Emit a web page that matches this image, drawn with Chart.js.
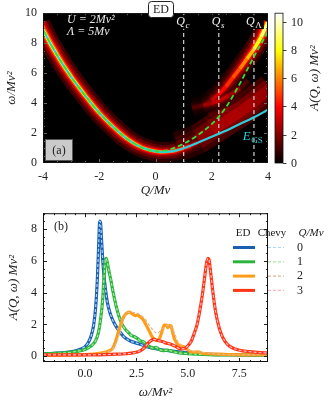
<!DOCTYPE html>
<html>
<head>
<meta charset="utf-8">
<title>Spectral function A(Q, omega)</title>
<style>
  body { margin: 0; background: #fff; }
  canvas { display: block; }
</style>
</head>
<body>
<canvas id="top" width="331" height="200"></canvas>
<canvas id="bottom" width="331" height="202"></canvas>
<script src="https://cdn.jsdelivr.net/npm/chart.js"></script>
<script>
// ---------- panel (a): ED spectral map, ridges ----------
const qTicks = [-4, -2, 0, 2, 4];
const wTicks = [0, 2, 4, 6, 8, 10];
const cbTicks = [0, 2, 4, 6, 8, 10];
const cbMax = 10.6;
const qMarks = [1.0, 2.25, 3.5];
const qMarkSubs = ['c', 's', 'Λ'];

// main quasiparticle ridge (Q, omega, relative brightness)
const ridgeQ = [-4.1, -4.0, -3.5, -3.0, -2.5, -2.0, -1.5, -1.0, -0.5, 0.0, 0.25, 0.5, 0.75, 1.0, 1.25, 1.5, 1.8];
const ridgeW = [9.3, 8.9, 7.2, 5.75, 4.5, 3.35, 2.4, 1.6, 1.05, 0.78, 0.73, 0.76, 0.84, 0.98, 1.15, 1.38, 1.7];
const ridgeI = [0.85, 0.85, 0.8, 0.76, 0.73, 0.7, 0.68, 0.66, 0.63, 0.6, 0.58, 0.56, 0.52, 0.45, 0.35, 0.22, 0.08];
// upper bright branch on the right
const upQ = [1.5, 1.8, 2.0, 2.25, 2.5, 2.75, 3.0, 3.25, 3.5, 3.75, 4.0, 4.1];
const upW = [3.75, 3.95, 4.2, 4.6, 5.1, 5.7, 6.3, 6.95, 7.6, 8.4, 9.4, 9.8];
const upI = [0.05, 0.15, 0.25, 0.36, 0.41, 0.46, 0.53, 0.61, 0.71, 0.81, 0.9, 0.92];
// faint side branches
const f2Q = [1.3, 1.7, 2.0, 2.25, 2.6, 3.0, 3.3];
const f2W = [3.7, 3.85, 4.0, 4.15, 4.5, 5.0, 5.5];
const f2I = [0.05, 0.2, 0.28, 0.3, 0.28, 0.18, 0.05];
const f3Q = [1.9, 2.25, 2.6, 3.0, 3.4];
const f3W = [3.2, 3.35, 3.6, 4.0, 4.5];
const f3I = [0.05, 0.2, 0.22, 0.15, 0.05];
// diffuse continuum between E_GS and the quasiparticle line
const dfQ = [0.8, 1.5, 2.0, 2.5, 3.0, 3.5, 4.1];
const dfW = [1.1, 1.6, 2.2, 2.8, 3.4, 4.1, 5.0];
const dfI = [0.1, 0.22, 0.28, 0.3, 0.3, 0.28, 0.25];

// ground state energy E_GS (cyan)
const egsQ = [-4.1, -4.0, -3.5, -3.0, -2.5, -2.0, -1.5, -1.0, -0.5, 0.0, 0.25, 0.5, 0.75, 1.0, 1.5, 2.0, 2.25, 2.5, 3.0, 3.5, 4.0, 4.1];
const egsW = [9.3, 8.9, 7.2, 5.75, 4.5, 3.35, 2.4, 1.6, 1.05, 0.78, 0.73, 0.76, 0.84, 0.98, 1.35, 1.75, 1.95, 2.15, 2.6, 3.05, 3.55, 3.65];
// Chevy quasiparticle (green dashed)
const qpQ = [-4.1, -4.0, -3.5, -3.0, -2.5, -2.0, -1.5, -1.0, -0.5, 0.0, 0.25, 0.5, 1.0, 1.5, 2.0, 2.25, 2.5, 3.0, 3.5, 4.0, 4.1];
const qpW = [9.3, 8.9, 7.2, 5.75, 4.5, 3.35, 2.4, 1.6, 1.05, 0.77, 0.8, 0.9, 1.28, 1.85, 2.6, 3.1, 3.7, 5.3, 7.1, 8.8, 9.2];

// ---------- panel (b): cuts at fixed Q ----------
const qLabels = ['0', '1', '2', '3'];
const omegaTicks = [0, 2.5, 5, 7.5];
const omegaTickLabels = ['0.0', '2.5', '5.0', '7.5'];
const aTicks = [0, 2, 4, 6, 8];

const edOmega0 = [-2.05, -1.5, -1, -0.5, -0.2, 0, 0.15, 0.3, 0.42, 0.52, 0.6, 0.66, 0.71, 0.75, 0.8, 0.86, 0.93, 1.0, 1.08, 1.17, 1.3, 1.45, 1.65, 1.9, 2.2, 2.6, 3.0, 3.5, 4.2, 5, 6, 7, 8, 8.9];
const edA0 = [0.15, 0.18, 0.22, 0.32, 0.45, 0.6, 0.85, 1.3, 2.0, 3.2, 5.0, 7.0, 8.5, 8.4, 7.3, 6.0, 4.9, 4.1, 3.4, 2.9, 2.4, 2.0, 1.6, 1.2, 0.95, 0.78, 0.6, 0.45, 0.32, 0.22, 0.13, 0.09, 0.06, 0.05];

const edOmega1 = [-2.05, -1, -0.5, 0, 0.3, 0.5, 0.65, 0.75, 0.85, 0.92, 0.98, 1.02, 1.08, 1.15, 1.25, 1.35, 1.5, 1.65, 1.8, 1.95, 2.1, 2.25, 2.4, 2.55, 2.7, 2.85, 3.0, 3.15, 3.3, 3.45, 3.6, 3.8, 4.0, 4.2, 4.5, 5, 6, 7, 8.9];
const edA1 = [0.15, 0.2, 0.28, 0.42, 0.65, 0.95, 1.5, 2.3, 3.5, 5.0, 6.0, 6.15, 5.9, 5.4, 4.8, 4.1, 3.2, 2.5, 2.0, 1.7, 1.5, 1.3, 1.22, 1.1, 0.95, 0.9, 0.72, 0.6, 0.5, 0.55, 0.42, 0.35, 0.38, 0.32, 0.22, 0.15, 0.1, 0.08, 0.05];

const edOmega2 = [-2.05, -1, 0, 0.5, 0.9, 1.15, 1.35, 1.5, 1.6, 1.72, 1.83, 1.95, 2.05, 2.15, 2.25, 2.35, 2.45, 2.55, 2.65, 2.75, 2.85, 2.95, 3.05, 3.15, 3.25, 3.35, 3.45, 3.55, 3.65, 3.75, 3.85, 3.95, 4.02, 4.1, 4.18, 4.26, 4.34, 4.45, 4.56, 4.7, 4.82, 4.95, 5.1, 5.3, 5.5, 5.7, 6.0, 6.5, 7, 8, 8.9];
const edA2 = [0.05, 0.06, 0.1, 0.15, 0.22, 0.32, 0.5, 1.0, 1.45, 1.95, 2.35, 2.6, 2.72, 2.78, 2.7, 2.62, 2.55, 2.6, 2.5, 2.4, 2.25, 2.0, 1.75, 1.5, 1.25, 1.1, 1.0, 1.0, 1.2, 1.6, 1.95, 1.95, 1.8, 1.92, 1.9, 1.5, 1.1, 0.85, 0.68, 0.62, 0.58, 0.45, 0.3, 0.25, 0.27, 0.18, 0.15, 0.12, 0.1, 0.08, 0.07];

const edOmega3 = [-2.05, -1, 0, 1, 1.5, 2, 2.4, 2.7, 2.9, 3.05, 3.2, 3.35, 3.5, 3.65, 3.8, 3.95, 4.1, 4.25, 4.4, 4.55, 4.7, 4.85, 5.0, 5.15, 5.3, 5.45, 5.6, 5.72, 5.82, 5.9, 5.97, 6.02, 6.08, 6.15, 6.25, 6.35, 6.5, 6.65, 6.8, 7.0, 7.3, 7.6, 8.0, 8.5, 8.9];
const edA3 = [0.08, 0.08, 0.08, 0.1, 0.12, 0.15, 0.22, 0.35, 0.55, 0.8, 0.98, 1.05, 1.0, 0.95, 0.9, 0.82, 0.78, 0.7, 0.62, 0.5, 0.45, 0.5, 0.65, 0.9, 1.4, 2.0, 3.0, 4.0, 5.0, 5.8, 6.15, 6.1, 5.6, 4.8, 3.7, 2.8, 1.9, 1.3, 0.95, 0.65, 0.45, 0.35, 0.28, 0.22, 0.2];

// Chevy lies on the ED curves except for Q = 2, where it is smoother
const chevyOmega2 = [-2.05, 0, 1.0, 1.4, 1.7, 1.9, 2.1, 2.3, 2.6, 2.9, 3.2, 3.5, 3.8, 4.1, 4.3, 4.5, 4.8, 5.2, 5.6, 6.5, 8.9];
const chevyA2 = [0.05, 0.1, 0.25, 0.55, 1.5, 2.4, 2.75, 2.75, 2.65, 2.35, 1.8, 1.45, 1.75, 1.95, 1.6, 0.95, 0.6, 0.3, 0.25, 0.12, 0.07];

const edSeries = [[edOmega0, edA0], [edOmega1, edA1], [edOmega2, edA2], [edOmega3, edA3]];
const chevySeries = [[edOmega0, edA0], [edOmega1, edA1], [chevyOmega2, chevyA2], [edOmega3, edA3]];
const edColors = ['#1c5eb0', '#2cb53c', '#ff9c18', '#ff3512'];
const chevyColors = ['#a6d8ff', '#a8e8a8', '#dcb890', '#ffb4c4'];

const SERIF = '"Liberation Serif", "DejaVu Serif", serif';
const TXT = '#222';

// matplotlib-like "hot" colormap
function hot(t) {
  t = Math.max(0, Math.min(1, t));
  const r = Math.min(1, t / 0.375);
  const g = Math.max(0, Math.min(1, (t - 0.375) / 0.375));
  const b = Math.max(0, Math.min(1, (t - 0.75) / 0.25));
  return `rgb(${Math.round(r * 255)},${Math.round(g * 255)},${Math.round(b * 255)})`;
}

const pts = (xs, ys) => xs.map((x, i) => ({ x, y: ys[i] }));

function glow(qs, ws, is, width, gain, order) {
  return {
    glow: true,
    data: pts(qs, ws),
    borderWidth: width,
    borderColor: hot(is[0] * gain),
    segment: { borderColor: c => hot(((is[c.p0DataIndex] + is[c.p1DataIndex]) / 2) * gain) },
    pointRadius: 0, clip: 0, order,
    cubicInterpolationMode: 'monotone'
  };
}

const glowLayers = [[20, 0.12], [14, 0.24], [9.5, 0.4], [6, 0.62], [3.5, 1.0]];
const topDatasets = [];
[[ridgeQ, ridgeW, ridgeI], [upQ, upW, upI], [f2Q, f2W, f2I], [f3Q, f3W, f3I]].forEach(([q, w, i]) => {
  glowLayers.forEach(([lw, g], k) => topDatasets.push(glow(q, w, i, lw, g, 100 - k)));
});
[[30, 0.35], [20, 0.6], [11, 0.85]].forEach(([lw, g], k) => topDatasets.push(glow(dfQ, dfW, dfI, lw, g, 90 - k)));

qMarks.forEach(q => topDatasets.push({
  data: [{ x: q, y: 0 }, { x: q, y: 10 }],
  borderColor: 'rgba(215,215,215,0.9)', borderWidth: 1.3, borderDash: [4, 3],
  pointRadius: 0, clip: 0, order: 3
}));
topDatasets.push({
  data: pts(egsQ, egsW), borderColor: '#2ccfda', borderWidth: 2.2,
  pointRadius: 0, clip: 0, order: 2, cubicInterpolationMode: 'monotone'
});
topDatasets.push({
  data: pts(qpQ, qpW), borderColor: '#35e035', borderWidth: 1.8, borderDash: [5, 3],
  pointRadius: 0, clip: 0, order: 1, cubicInterpolationMode: 'monotone'
});

// lighten blend keeps faint ridges from hiding bright ones
const blendPlugin = {
  id: 'blend',
  beforeDatasetDraw(chart, args) {
    if (args.meta._dataset.glow) chart.ctx.globalCompositeOperation = 'lighten';
  },
  afterDatasetDraw(chart) { chart.ctx.globalCompositeOperation = 'source-over'; },
  beforeDatasetsDraw(chart, args, o) {
    if (!o.fill) return;
    const a = chart.chartArea;
    chart.ctx.fillStyle = o.fill;
    chart.ctx.fillRect(a.left, a.top, a.width, a.height);
  }
};

// box frame with inward ticks on all sides
const framePlugin = {
  id: 'frame',
  afterDatasetsDraw(chart, args, o) {
    const { ctx, chartArea: a, scales: { x, y } } = chart;
    ctx.save();
    ctx.strokeStyle = o.tickColor;
    ctx.lineWidth = 1;
    const xs = (vals, len) => vals.forEach(v => {
      const p = Math.round(x.getPixelForValue(v)) + 0.5;
      if (p < a.left || p > a.right) return;
      ctx.beginPath();
      ctx.moveTo(p, a.bottom); ctx.lineTo(p, a.bottom - len);
      ctx.moveTo(p, a.top); ctx.lineTo(p, a.top + len);
      ctx.stroke();
    });
    const ys = (vals, len) => vals.forEach(v => {
      const p = Math.round(y.getPixelForValue(v)) + 0.5;
      if (p < a.top || p > a.bottom) return;
      ctx.beginPath();
      ctx.moveTo(a.left, p); ctx.lineTo(a.left + len, p);
      ctx.moveTo(a.right, p); ctx.lineTo(a.right - len, p);
      ctx.stroke();
    });
    xs(o.xMajor, 4); xs(o.xMinor, 2); ys(o.yMajor, 4); ys(o.yMinor, 2);
    ctx.strokeStyle = '#111';
    ctx.strokeRect(a.left + 0.5, a.top + 0.5, a.width - 1, a.height - 1);
    ctx.restore();
  }
};

function minors(lo, hi, step) {
  const out = [];
  for (let v = lo; v <= hi + 1e-9; v += step) out.push(+v.toFixed(3));
  return out;
}

function subText(ctx, x, y, main, sub, size, color, mainItalic, subItalic) {
  ctx.fillStyle = color;
  ctx.textBaseline = 'alphabetic';
  ctx.textAlign = 'left';
  ctx.font = (mainItalic ? 'italic ' : '') + size + 'px ' + SERIF;
  const w = ctx.measureText(main).width;
  ctx.fillText(main, x, y);
  ctx.font = (subItalic ? 'italic ' : '') + Math.round(size * 0.72) + 'px ' + SERIF;
  ctx.fillText(sub, x + w + 0.5, y + 3);
  return w + 0.5 + ctx.measureText(sub).width;
}

const annotA = {
  id: 'annotA',
  afterDraw(chart) {
    const { ctx, chartArea: a, scales: { x, y, cb } } = chart;
    ctx.save();
    // parameters
    ctx.fillStyle = '#e6e6e6';
    ctx.font = 'italic 12px ' + SERIF;
    ctx.textBaseline = 'middle';
    ctx.fillText('U = 2Mv²', a.left + 24, 20);
    ctx.fillText('Λ = 5Mv', a.left + 24, 32);
    // (a) box
    ctx.fillStyle = '#cacaca';
    ctx.strokeStyle = '#555';
    ctx.fillRect(a.left + 2.5, a.bottom - 23.5, 27, 21);
    ctx.strokeRect(a.left + 2.5, a.bottom - 23.5, 27, 21);
    ctx.fillStyle = TXT;
    ctx.font = '12px ' + SERIF;
    ctx.textAlign = 'center';
    ctx.fillText('(a)', a.left + 16, a.bottom - 12.5);
    // ED box
    ctx.fillStyle = '#fff';
    ctx.strokeStyle = '#222';
    ctx.beginPath();
    ctx.roundRect(148.5, 1.5, 25, 16, 3);
    ctx.fill(); ctx.stroke();
    ctx.fillStyle = TXT;
    ctx.fillText('ED', 161, 10);
    // Q markers
    qMarks.forEach((q, i) => {
      const px = x.getPixelForValue(q);
      ctx.font = 'italic 12px ' + SERIF;
      const w = ctx.measureText('Q').width + ctx.measureText(qMarkSubs[i]).width * 0.72 + 2;
      ctx.fillStyle = 'rgba(0,0,0,0.92)';
      ctx.fillRect(px - w / 2 - 2, 15, w + 4, 14);
      subText(ctx, px - w / 2, 25, 'Q', qMarkSubs[i], 12, '#f0f0f0', true, qMarkSubs[i] !== 'Λ');
    });
    // E_GS
    subText(ctx, x.getPixelForValue(3.1), y.getPixelForValue(1.55), 'E', 'GS', 13, '#2ccfda', true, false);
    // colorbar
    const top = cb.getPixelForValue(cbMax), bot = cb.getPixelForValue(0);
    const grad = ctx.createLinearGradient(0, bot, 0, top);
    for (let k = 0; k <= 16; k++) grad.addColorStop(k / 16, hot(k / 16));
    ctx.fillStyle = grad;
    ctx.fillRect(275, top, 8, bot - top);
    ctx.strokeStyle = '#111';
    ctx.lineWidth = 0.8;
    ctx.strokeRect(275, top, 8, bot - top);
    ctx.font = '12px ' + SERIF;
    ctx.fillStyle = TXT;
    ctx.textAlign = 'left';
    ctx.textBaseline = 'middle';
    cbTicks.forEach(v => {
      const p = Math.round(cb.getPixelForValue(v)) + 0.5;
      ctx.beginPath(); ctx.moveTo(283, p); ctx.lineTo(286.5, p); ctx.stroke();
      ctx.fillText(String(v), 291, p);
    });
    ctx.translate(315, 78);
    ctx.rotate(-Math.PI / 2);
    ctx.textAlign = 'center';
    ctx.font = 'italic 13px ' + SERIF;
    ctx.fillText('A(Q, ω) Mv²', 0, 0);
    ctx.restore();
  }
};

const legendB = {
  id: 'legendB',
  afterDraw(chart) {
    const { ctx, chartArea: a } = chart;
    ctx.save();
    ctx.fillStyle = TXT;
    ctx.textBaseline = 'middle';
    ctx.textAlign = 'center';
    ctx.font = '12px ' + SERIF;
    ctx.fillText('(b)', a.left + 18, a.top + 14);
    ctx.font = '11px ' + SERIF;
    ctx.fillText('ED', 243, 33);
    ctx.fillText('Chevy', 272, 33);
    ctx.font = 'italic 11px ' + SERIF;
    ctx.fillText('Q/Mv', 311, 33);
    ctx.font = '12px ' + SERIF;
    qLabels.forEach((lab, i) => {
      const yy = 47.5 + i * 14.3;
      ctx.setLineDash([]);
      ctx.strokeStyle = edColors[i];
      ctx.lineWidth = 3;
      ctx.beginPath(); ctx.moveTo(233, yy); ctx.lineTo(255, yy); ctx.stroke();
      ctx.setLineDash([3, 2]);
      ctx.strokeStyle = chevyColors[i];
      ctx.lineWidth = 1.2;
      ctx.beginPath(); ctx.moveTo(268, yy); ctx.lineTo(284, yy); ctx.stroke();
      ctx.fillStyle = TXT;
      ctx.fillText(lab, 300, yy);
    });
    ctx.restore();
  }
};

const tickFont = { family: SERIF, size: 12 };
const titleFont = { family: SERIF, size: 13, style: 'italic' };

new Chart(document.getElementById('top'), {
  type: 'line',
  data: { datasets: topDatasets },
  plugins: [blendPlugin, framePlugin, annotA],
  options: {
    responsive: false, animation: false, events: [],
    layout: { padding: { top: 10, right: 63, left: 0, bottom: 0 } },
    plugins: {
      legend: { display: false }, tooltip: { enabled: false },
      blend: { fill: '#000' },
      frame: { tickColor: '#666', xMajor: qTicks, xMinor: minors(-4, 4, 0.5), yMajor: wTicks, yMinor: minors(0, 10, 0.5) }
    },
    scales: {
      x: {
        type: 'linear', min: -4, max: 4,
        afterBuildTicks: s => { s.ticks = qTicks.map(v => ({ value: v })); },
        ticks: { font: tickFont, color: TXT, padding: 7, maxRotation: 0 },
        grid: { display: false, drawTicks: false },
        border: { display: false },
        title: { display: true, text: 'Q/Mv', font: titleFont, color: TXT, padding: { top: 0, bottom: 2 } },
        afterFit: s => { s.height = 37; }
      },
      y: {
        type: 'linear', min: 0, max: 10,
        afterBuildTicks: s => { s.ticks = wTicks.map(v => ({ value: v })); },
        ticks: { font: tickFont, color: TXT, padding: 6 },
        grid: { display: false, drawTicks: false },
        border: { display: false },
        title: { display: true, text: 'ω/Mv²', font: titleFont, color: TXT, padding: { top: 4, bottom: 0 } },
        afterFit: s => { s.width = 43; }
      },
      cb: { type: 'linear', axis: 'y', position: 'right', display: false, min: 0, max: cbMax }
    }
  }
});

const bottomDatasets = [];
edSeries.forEach(([w, A], i) => {
  bottomDatasets.push({
    label: 'Chevy ' + qLabels[i], data: pts(chevySeries[i][0], chevySeries[i][1]),
    borderColor: chevyColors[i], borderWidth: 1.2, borderDash: [3, 2],
    pointRadius: 0, clip: 0, order: 10 - 2 * i, cubicInterpolationMode: 'monotone'
  });
  bottomDatasets.push({
    label: 'ED ' + qLabels[i], data: pts(w, A),
    borderColor: edColors[i], borderWidth: 3.2,
    pointRadius: 0, clip: 0, order: 11 - 2 * i, cubicInterpolationMode: 'monotone'
  });
});

new Chart(document.getElementById('bottom'), {
  type: 'line',
  data: { datasets: bottomDatasets },
  plugins: [framePlugin, legendB],
  options: {
    responsive: false, animation: false, events: [],
    layout: { padding: { top: 9, right: 63, left: 0, bottom: 0 } },
    plugins: {
      legend: { display: false }, tooltip: { enabled: false },
      frame: { tickColor: '#222', xMajor: omegaTicks, xMinor: minors(-2, 8.5, 0.5), yMajor: aTicks, yMinor: minors(0, 9, 0.5) }
    },
    scales: {
      x: {
        type: 'linear', min: -2.05, max: 8.9,
        afterBuildTicks: s => { s.ticks = omegaTicks.map(v => ({ value: v })); },
        ticks: { font: tickFont, color: TXT, padding: 5, maxRotation: 0, callback: (v, i) => omegaTickLabels[i] },
        grid: { display: false, drawTicks: false },
        border: { display: false },
        title: { display: true, text: 'ω/Mv²', font: titleFont, color: TXT, padding: { top: 0, bottom: 2 } },
        afterFit: s => { s.height = 40; }
      },
      y: {
        type: 'linear', min: -0.37, max: 9.0,
        afterBuildTicks: s => { s.ticks = aTicks.map(v => ({ value: v })); },
        ticks: { font: tickFont, color: TXT, padding: 6 },
        grid: { display: false, drawTicks: false },
        border: { display: false },
        title: { display: true, text: 'A(Q, ω) Mv²', font: titleFont, color: TXT, padding: { top: 6, bottom: 0 } },
        afterFit: s => { s.width = 43; }
      }
    }
  }
});
</script>
</body>
</html>
